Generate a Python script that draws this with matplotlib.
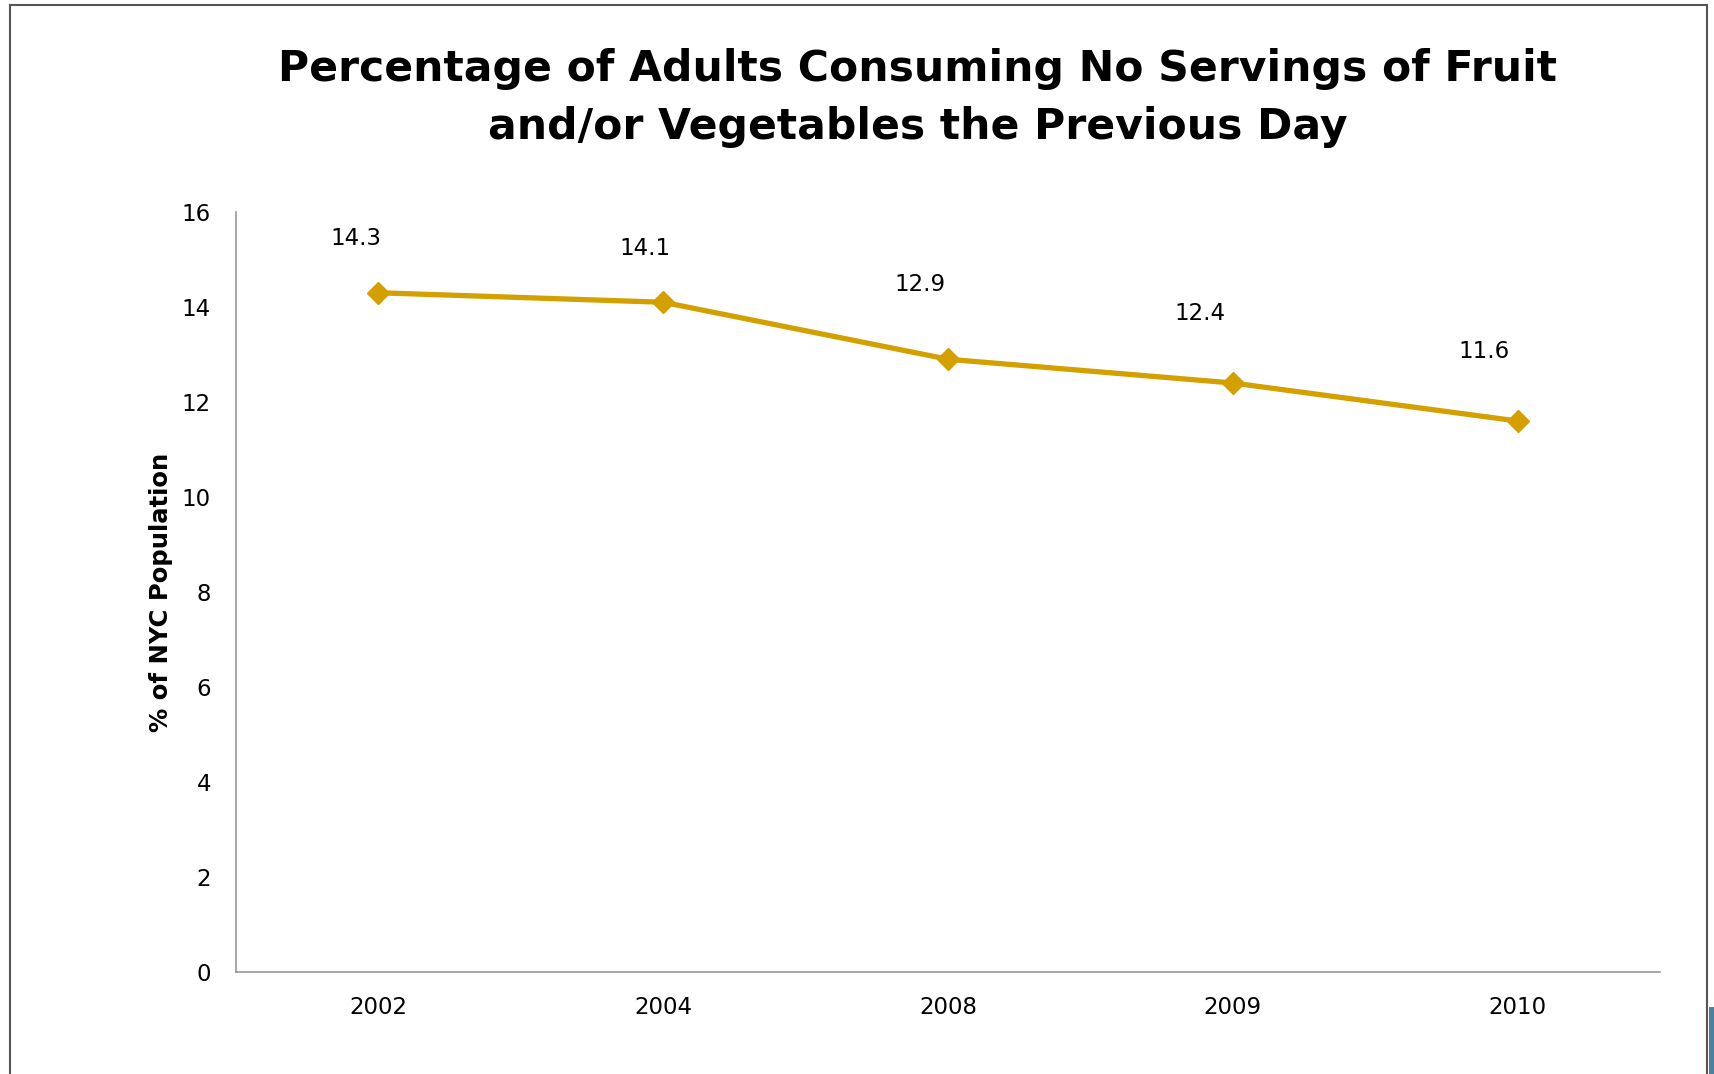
import matplotlib
matplotlib.use("Agg")
import matplotlib.pyplot as plt
from matplotlib.lines import Line2D
from matplotlib.patches import Rectangle

years = ["2002", "2004", "2008", "2009", "2010"]
values = [14.3, 14.1, 12.9, 12.4, 11.6]
yticks = [0, 2, 4, 6, 8, 10, 12, 14, 16]
title = "Percentage of Adults Consuming No Servings of Fruit\nand/or Vegetables the Previous Day"
ylabel = "% of NYC Population"

# label placement offsets (points), layout only
label_dx = [-16, -13, -20, -24, -24]
label_dy = [39, 39, 54, 50, 50]

W, H = 1714, 1074
fig = plt.figure(figsize=(W / 100, H / 100), dpi=100)
plt.rcParams['font.family'] = ['DejaVu Sans']

# frame (left, top, right)
for xs, ys in [([10, 10], [0, H - 5]), ([10, 1707], [H - 5, H - 5]), ([1707, 1707], [H - 5, 0])]:
    fig.add_artist(Line2D([x / W for x in xs], [y / H for y in ys], color="#555555", lw=1.5,
                          transform=fig.transFigure))
fig.add_artist(Rectangle((1709 / W, 0), 5 / W, 67 / H, transform=fig.transFigure,
                         color="#4f7fa0", lw=0))

ax = fig.add_axes([236 / W, 1 - 972 / H, (1660 - 236) / W, (972 - 212) / H])
x = range(len(years))
color = "#D4A000"
ax.plot(x, values, color=color, lw=3.8, marker="D", markersize=11, zorder=3)
for xi, v, dx, dy in zip(x, values, label_dx, label_dy):
    ax.annotate(f"{v}", (xi, v), xytext=(dx, dy), textcoords="offset points",
                ha="center", va="center", fontsize=16.5)

ax.set_xlim(-0.5, len(years) - 0.5)
ax.set_ylim(0, 16)
ax.set_yticks(yticks)
ax.set_xticks(list(x))
ax.set_xticklabels(years)
ax.tick_params(axis="both", length=0, labelsize=16.5)
ax.tick_params(axis="y", pad=18)
ax.tick_params(axis="x", pad=17)
for s in ["top", "right"]:
    ax.spines[s].set_visible(False)
for s in ["left", "bottom"]:
    ax.spines[s].set_color("#999999")
    ax.spines[s].set_linewidth(1.2)

ax.set_ylabel(ylabel, fontsize=17.5, fontweight="bold", labelpad=6)

fig.text(918 / W, 1 - 98 / H, title, ha="center", va="center", fontsize=30.6,
         fontweight="bold", linespacing=1.48)

fig.savefig("out.png", dpi=100)
